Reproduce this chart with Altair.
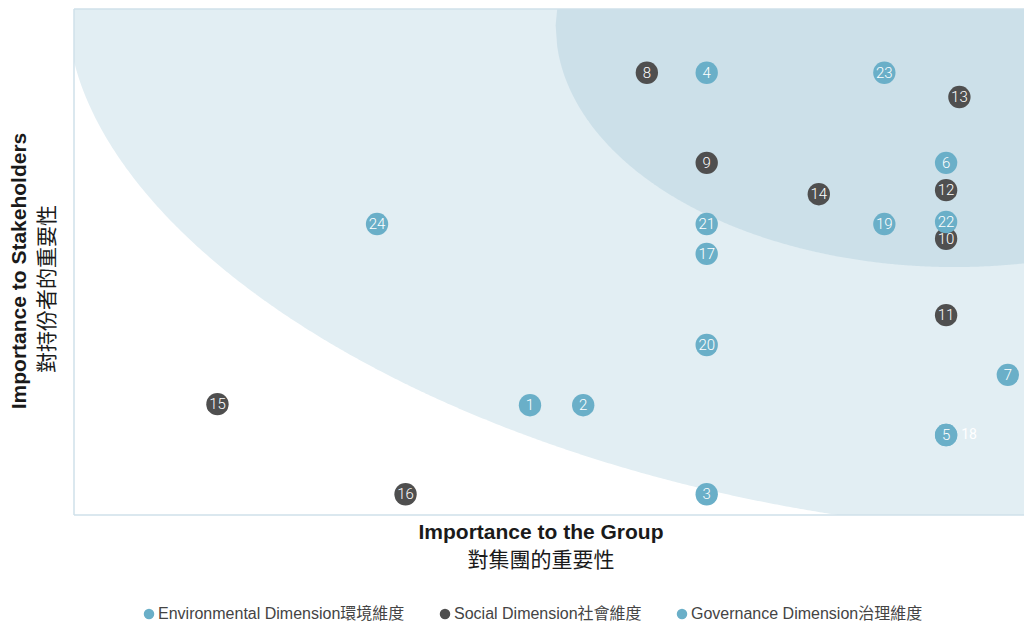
import numpy as np
import pandas as pd
import altair as alt

# ---- data ----
ids = list(range(1, 25))
ENV = "Environmental Dimension環境維度"
SOC = "Social Dimension社會維度"
GOV = "Governance Dimension治理維度"
dims = [ENV] * 7 + [SOC] * 9 + [GOV] * 8
group_imp = [48.0, 53.6, 66.6, 66.6, 91.8, 91.8, 98.3, 60.3, 66.6, 91.8, 91.8, 91.8,
             93.2, 78.4, 15.1, 34.9, 66.6, 91.8, 85.3, 66.6, 66.6, 91.8, 85.3, 31.9]
stake_imp = [21.7, 21.7, 4.1, 87.4, 15.8, 69.6, 27.7, 87.4, 69.6, 54.6, 39.5, 64.2,
             82.6, 63.4, 21.9, 4.1, 51.6, 15.8, 57.5, 33.6, 57.5, 57.9, 87.4, 57.5]

df = pd.DataFrame({"id": ids, "dim": dims, "gx": group_imp, "sy": stake_imp})
df["label"] = df["id"].astype(str)

BLUE = "#6aafc8"
DARK = "#4f4f4f"
FONT = "Roboto, 'Noto Sans CJK TC', sans-serif"
TFONT = "'Liberation Sans', 'Noto Sans CJK TC', sans-serif"
BORDER = "#cfe1ea"

xs = alt.Scale(domain=[0, 100], nice=False, zero=False)
ys = alt.Scale(domain=[0, 100], nice=False, zero=False)

# ---- background zones (shape of the materiality bands) ----
cx, cy, a, b, n = 102.0, 98.0, 102.6, 101.3, 1.82
lx = np.linspace(0, 100, 401)
t = np.clip(1 - np.abs((lx - cx) / a) ** n, 0, None)
light = pd.DataFrame({"x": lx, "y": cy - b * t ** (1 / n), "y2": 100.0})

cx2, cy2, a2, b2 = 92.7, 96.8, 42.0, 47.8
dxs = np.linspace(cx2 - a2, 100, 300)
s = np.sqrt(np.clip(1 - ((dxs - cx2) / a2) ** 2, 0, None))
dark = pd.DataFrame({"x": dxs, "y": cy2 - b2 * s, "y2": np.minimum(cy2 + b2 * s, 100.0)})

light_area = alt.Chart(light).mark_area(color="#e2eef3", clip=True, opacity=1).encode(
    x=alt.X("x:Q", scale=xs, axis=None),
    y=alt.Y("y:Q", scale=ys, axis=None),
    y2="y2:Q",
)
dark_area = alt.Chart(dark).mark_area(color="#cce0e9", clip=True, opacity=1).encode(
    x=alt.X("x:Q", scale=xs, axis=None),
    y=alt.Y("y:Q", scale=ys, axis=None),
    y2="y2:Q",
)

# plot frame: left, top, bottom (the plot runs off the right edge)
frame_df = pd.DataFrame({"k": [0]})
left_rule = alt.Chart(frame_df).mark_rule(color=BORDER, strokeWidth=1.5).encode(
    x=alt.value(0), y=alt.value(0), y2=alt.value(506))
top_rule = alt.Chart(frame_df).mark_rule(color=BORDER, strokeWidth=1.5).encode(
    x=alt.value(0), x2=alt.value(950), y=alt.value(0))
bottom_rule = alt.Chart(frame_df).mark_rule(color=BORDER, strokeWidth=1.5).encode(
    x=alt.value(0), x2=alt.value(950), y=alt.value(506))

circles = alt.Chart(df).mark_circle(size=500, opacity=1).encode(
    x=alt.X("gx:Q", scale=xs, axis=None),
    y=alt.Y("sy:Q", scale=ys, axis=None),
    color=alt.Color(
        "dim:N",
        scale=alt.Scale(domain=[ENV, SOC, GOV], range=[BLUE, DARK, BLUE]),
        legend=alt.Legend(
            title=None, orient="none", direction="horizontal",
            legendX=67, legendY=597, symbolType="circle", symbolSize=110,
            symbolStrokeWidth=0, symbolOpacity=1, labelFontSize=16,
            labelFont=TFONT, labelFontWeight="normal", labelColor="#444444",
            labelLimit=0, labelOffset=1, columnPadding=32,
        ),
    ),
)

labels = alt.Chart(df).transform_filter("datum.id != 18").mark_text(
    color="white", fontSize=15, font=FONT, fontWeight=300, baseline="middle", align="center"
).encode(
    x=alt.X("gx:Q", scale=xs, axis=None),
    y=alt.Y("sy:Q", scale=ys, axis=None),
    text="label:N",
)
label18 = alt.Chart(df).transform_filter("datum.id == 18").mark_text(
    color="white", fontSize=14, font=FONT, fontWeight=400, baseline="middle", align="center", dx=23
).encode(
    x=alt.X("gx:Q", scale=xs, axis=None),
    y=alt.Y("sy:Q", scale=ys, axis=None),
    text="label:N",
)

def title_text(txt, x, y, weight, angle=0):
    return alt.Chart(pd.DataFrame({"t": [txt]})).mark_text(
        fontSize=21, font=TFONT, fontWeight=weight, color="#1a1a1a",
        align="center", baseline="middle", angle=angle,
    ).encode(x=alt.value(x), y=alt.value(y), text="t:N")

x_title_en = title_text("Importance to the Group", 467, 524, "bold")
x_title_zh = title_text("對集團的重要性", 467, 552, "normal")
y_title_en = title_text("Importance to Stakeholders", -54, 262, "bold", angle=270)
y_title_zh = title_text("對持份者的重要性", -26, 280, "normal", angle=270)

chart = alt.layer(
    light_area, dark_area, left_rule, top_rule, bottom_rule, circles, labels, label18,
    x_title_en, x_title_zh, y_title_en, y_title_zh,
).properties(
    width=950, height=506,
    autosize=alt.AutoSizeParams(type="none"),
    padding={"left": 66, "top": 1, "right": 0, "bottom": 107},
).configure_view(
    stroke=None
)

chart.save("out.html", embed_options={"renderer": "svg", "actions": False})
